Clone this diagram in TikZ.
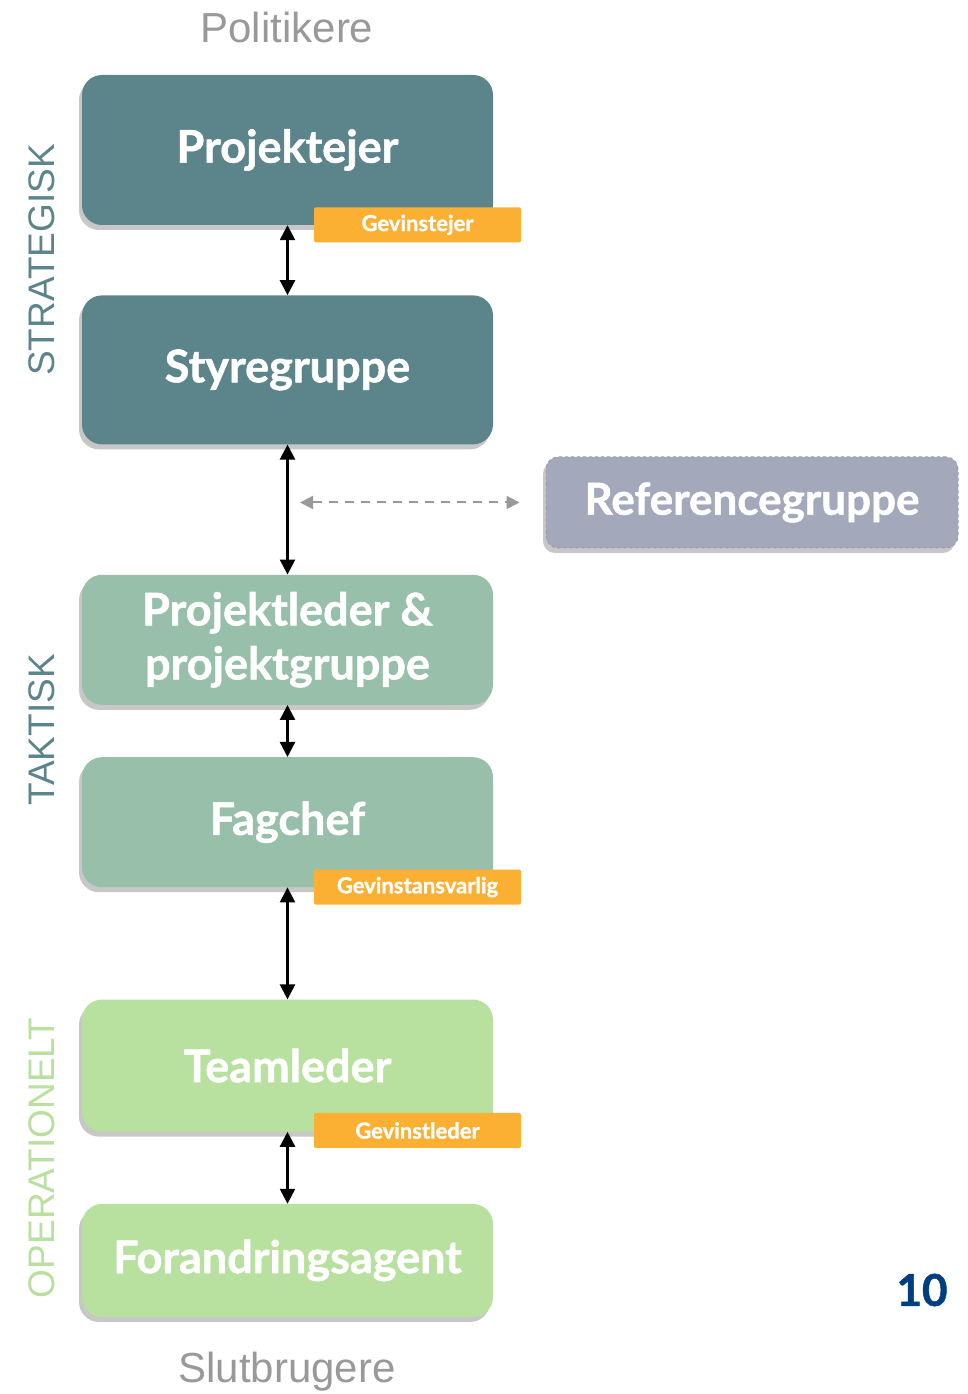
\documentclass[tikz,border=0pt]{standalone}
\usepackage{fontspec}
\setmainfont[BoldFeatures={FakeBold=1.2}]{Lato}
\setsansfont{Liberation Sans}
\usetikzlibrary{
arrows.meta,
positioning,
shadows,
calc
}
\definecolor{OrgStrat}{HTML}{5B858B}
\definecolor{OrgTakt}{HTML}{98BFA9}
\definecolor{OrgOper}{HTML}{B8E09E}
\definecolor{OrgOrange}{HTML}{FBB034}
\definecolor{OrgRef}{HTML}{A3A9BA}
\definecolor{OrgRefLine}{HTML}{9A9EA8}
\definecolor{OrgGray}{HTML}{999999}
\definecolor{OrgNavy}{HTML}{003F7F}
\tikzset{
orgbox/.style={rounded corners=20pt, minimum width=411pt, inner sep=0pt, align=center,
  text=white, font=\bfseries\fontsize{45}{54}\selectfont,
  drop shadow={shadow xshift=-3pt, shadow yshift=-5pt, fill=black, opacity=0.22}},
stratbox/.style={orgbox, fill=OrgStrat},
taktbox/.style={orgbox, fill=OrgTakt},
operbox/.style={orgbox, fill=OrgOper},
refbox/.style={orgbox, fill=OrgRef, draw=OrgRefLine, dashed, line width=1pt,
  rounded corners=12pt, minimum width=412pt, minimum height=91pt, font=\bfseries\fontsize{44}{48}\selectfont},
orgtag/.style={fill=OrgOrange, rounded corners=2pt, minimum width=207pt, minimum height=35pt,
  inner sep=0pt, text=white, font=\bfseries\fontsize{22}{24}\selectfont},
orgarrow/.style={{Triangle[length=15pt,width=15pt]}-{Triangle[length=15pt,width=15pt]}, line width=2.4pt},
refarrow/.style={{Triangle[length=13pt,width=13pt]}-{Triangle[length=13pt,width=13pt]}, line width=2pt,
  draw=OrgGray, dash pattern=on 9pt off 7pt},
levellabel/.style={rotate=90, inner sep=0pt, font=\sffamily\fontsize{37}{40}\selectfont},
endlabel/.style={inner sep=0pt, text=OrgGray, font=\sffamily\fontsize{42}{46}\selectfont}
}
\begin{document}
\begin{tikzpicture}[x=1pt, y=1pt]
\useasboundingbox (0,0) rectangle (968,1394);

% levels
\node[stratbox, minimum height=150pt] (projektejer) at (287.5,1244) {Projektejer};
\node[stratbox, minimum height=149pt, below=70pt of projektejer] (styregruppe) {Styregruppe};
\node[taktbox, minimum height=130pt, below=130pt of styregruppe] (projektleder) {Projektleder \&\\projektgruppe};
\node[taktbox, minimum height=130pt, below=52pt of projektleder] (fagchef) {Fagchef};
\node[operbox, minimum height=132pt, below=112pt of fagchef] (teamleder) {Teamleder};
\node[operbox, minimum height=113pt, below=72pt of teamleder] (forandringsagent) {Forandringsagent};

\node[refbox] (referencegruppe) at (752,891.5) {Referencegruppe};

% gevinst roles
\node[orgtag, anchor=north east] (gevinstejer) at ($(projektejer.south east)+(28,18)$) {Gevinstejer};
\node[orgtag, anchor=north east] (gevinstansvarlig) at ($(fagchef.south east)+(28,18)$) {Gevinstansvarlig};
\node[orgtag, anchor=north east] (gevinstleder) at ($(teamleder.south east)+(28,19)$) {Gevinstleder};

% side and end labels
\node[levellabel, text=OrgStrat] (strategisk) at (42,1134) {STRATEGISK};
\node[levellabel, text=OrgStrat] (taktisk) at (42,664) {TAKTISK};
\node[levellabel, text=OrgOper] (operationelt) at (42,236) {OPERATIONELT};
\node[endlabel] (politikere) at (287,1366) {Politikere};
\node[endlabel] (slutbrugere) at (287,22) {Slutbrugere};
\node[text=OrgNavy, font=\bfseries\fontsize{44}{48}\selectfont] (sidetal) at (922,104) {10};

\draw[orgarrow] (projektejer) -- (styregruppe);
\draw[orgarrow] (styregruppe) -- (projektleder);
\draw[orgarrow] (projektleder) -- (fagchef);
\draw[orgarrow] (fagchef) -- (teamleder);
\draw[orgarrow] (teamleder) -- (forandringsagent);

\coordinate (refstart) at (300,891.5);
\draw[refarrow, shorten >=26pt] (refstart) -- (referencegruppe.west);
\end{tikzpicture}
\end{document}
